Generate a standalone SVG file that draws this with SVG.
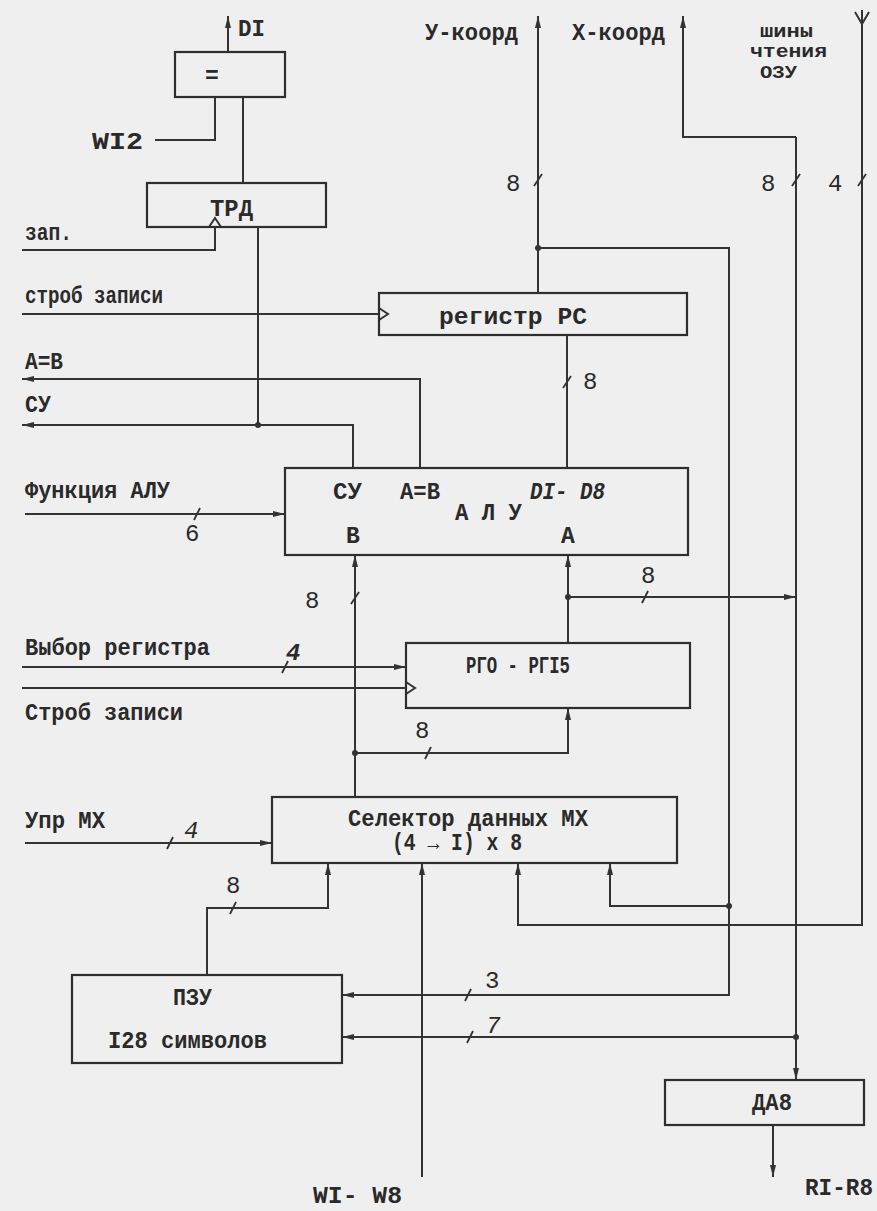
<svg xmlns="http://www.w3.org/2000/svg" width="877" height="1211" viewBox="0 0 877 1211">
<style>
.box{fill:none;stroke:#2e2e2e;stroke-width:2.2}
.ln{fill:none;stroke:#333;stroke-width:2}
.sl{fill:none;stroke:#333;stroke-width:1.8}
.t{font-family:"Liberation Mono","DejaVu Sans Mono",monospace;font-weight:bold;font-size:23px;fill:#2a2a2a}
.n{font-family:"Liberation Mono","DejaVu Sans Mono",monospace;font-size:24px;fill:#2a2a2a}
.s{font-family:"Liberation Mono","DejaVu Sans Mono",monospace;font-weight:bold;font-size:19px;fill:#2a2a2a}
.dot{fill:#333}
</style>
<defs>
<marker id="arr" viewBox="0 0 12 6" refX="12" refY="3" markerWidth="12" markerHeight="6" orient="auto" markerUnits="userSpaceOnUse"><path d="M0,0 L12,3 L0,6 z" fill="#333"/></marker>
</defs>
<rect width="877" height="1211" fill="#efefef"/>

<g id="connectors">
<path class="ln" d="M228,52 V16" marker-end="url(#arr)"/>
<path class="ln" d="M155,140 H215 V97"/>
<path class="ln" d="M243,97 V183"/>
<path class="ln" d="M22,250 H215 V227"/>
<path class="ln" d="M209,227 L215,218 L221,227"/>
<path class="ln" d="M258,227 V425"/>
<path class="ln" d="M353,468 V425 H22" marker-end="url(#arr)"/>
<path class="ln" d="M420,468 V379 H22" marker-end="url(#arr)"/>
<path class="ln" d="M22,314 H379"/>
<path class="ln" d="M379,308 L388,314 L379,320"/>
<path class="ln" d="M538,293 V16" marker-end="url(#arr)"/>
<path class="ln" d="M538,248 H729 V995 H342" marker-end="url(#arr)"/>
<path class="ln" d="M796,137 H683 V16" marker-end="url(#arr)"/>
<path class="ln" d="M796,137 V1080" marker-end="url(#arr)"/>
<path class="ln" d="M862,10 V925 H518 V863" marker-end="url(#arr)"/>
<path class="ln" d="M855,12 L862,24 L869,12"/>
<path class="ln" d="M567,335 V468"/>
<path class="ln" d="M25,514 H285" marker-end="url(#arr)"/>
<path class="ln" d="M355,797 V555" marker-end="url(#arr)"/>
<path class="ln" d="M355,753 H568 V708" marker-end="url(#arr)"/>
<path class="ln" d="M568,643 V555" marker-end="url(#arr)"/>
<path class="ln" d="M568,597 H796" marker-end="url(#arr)"/>
<path class="ln" d="M22,667 H406" marker-end="url(#arr)"/>
<path class="ln" d="M22,688 H406"/>
<path class="ln" d="M406,682 L415,688 L406,694"/>
<path class="ln" d="M25,843 H272" marker-end="url(#arr)"/>
<path class="ln" d="M207,975 V908 H328 V863" marker-end="url(#arr)"/>
<path class="ln" d="M729,906 H610 V863" marker-end="url(#arr)"/>
<path class="ln" d="M422,1177 V863" marker-end="url(#arr)"/>
<path class="ln" d="M796,1037 H342" marker-end="url(#arr)"/>
<path class="ln" d="M773,1125 V1177" marker-end="url(#arr)"/>

<path class="sl" d="M534,186 L542,174"/>
<path class="sl" d="M792,186 L800,174"/>
<path class="sl" d="M858,186 L866,174"/>
<path class="sl" d="M563,388 L571,376"/>
<path class="sl" d="M194,520 L200,508"/>
<path class="sl" d="M351,604 L359,592"/>
<path class="sl" d="M642,603 L648,591"/>
<path class="sl" d="M282,673 L288,661"/>
<path class="sl" d="M425,759 L431,747"/>
<path class="sl" d="M167,849 L173,837"/>
<path class="sl" d="M230,914 L236,902"/>
<path class="sl" d="M465,1001 L471,989"/>
<path class="sl" d="M467,1043 L473,1031"/>

<circle class="dot" cx="258" cy="425" r="3"/>
<circle class="dot" cx="538" cy="248" r="3"/>
<circle class="dot" cx="568" cy="597" r="3"/>
<circle class="dot" cx="355" cy="753" r="3"/>
<circle class="dot" cx="729" cy="906" r="3"/>
<circle class="dot" cx="796" cy="1037" r="3"/>
</g>

<g id="eq">
<rect class="box" x="175" y="52" width="110" height="45"/>
<text class="t" x="212" y="83" text-anchor="middle">=</text>
</g>
<g id="trd">
<rect class="box" x="147" y="183" width="179" height="44"/>
<text class="t" x="210" y="216" textLength="43" lengthAdjust="spacingAndGlyphs">ТРД</text>
</g>
<g id="rs">
<rect class="box" x="379" y="293" width="308" height="42"/>
<text class="t" x="439" y="324" font-size="22" textLength="148" lengthAdjust="spacingAndGlyphs">регистр  РС</text>
</g>
<g id="alu">
<rect class="box" x="285" y="468" width="403" height="87"/>
<text class="t" x="333" y="499" textLength="29" lengthAdjust="spacingAndGlyphs">СУ</text>
<text class="t" x="400" y="499" textLength="40" lengthAdjust="spacingAndGlyphs">A=B</text>
<text class="t" x="530" y="499" font-style="italic" font-weight="normal" textLength="75" lengthAdjust="spacingAndGlyphs">DI- D8</text>
<text class="t" x="455" y="520" textLength="67" lengthAdjust="spacingAndGlyphs">А Л У</text>
<text class="t" x="346" y="543">B</text>
<text class="t" x="561" y="543">A</text>
</g>
<g id="rg">
<rect class="box" x="406" y="643" width="284" height="65"/>
<text class="t" x="466" y="673" font-size="23" textLength="104" lengthAdjust="spacingAndGlyphs">РГО - РГI5</text>
</g>
<g id="sel">
<rect class="box" x="272" y="797" width="405" height="66"/>
<text class="t" x="348" y="826" textLength="240" lengthAdjust="spacingAndGlyphs">Селектор данных МХ</text>
<text class="t" x="392" y="850" textLength="130" lengthAdjust="spacingAndGlyphs">(4 → I) x 8</text>
</g>
<g id="pzu">
<rect class="box" x="72" y="975" width="270" height="88"/>
<text class="t" x="173" y="1005" textLength="39" lengthAdjust="spacingAndGlyphs">ПЗУ</text>
<text class="t" x="108" y="1048" textLength="159" lengthAdjust="spacingAndGlyphs">I28 символов</text>
</g>
<g id="da8">
<rect class="box" x="665" y="1080" width="199" height="45"/>
<text class="t" x="752" y="1110" textLength="40" lengthAdjust="spacingAndGlyphs">ДА8</text>
</g>

<g id="labels">
<text class="t" x="238" y="36" textLength="27" lengthAdjust="spacingAndGlyphs">DI</text>
<text class="t" x="92" y="149" textLength="51" lengthAdjust="spacingAndGlyphs">WI2</text>
<text class="t" x="25" y="240" textLength="47" lengthAdjust="spacingAndGlyphs">зап.</text>
<text class="t" x="25" y="303" textLength="138" lengthAdjust="spacingAndGlyphs">строб записи</text>
<text class="t" x="25" y="369" textLength="38" lengthAdjust="spacingAndGlyphs">A=B</text>
<text class="t" x="25" y="412" textLength="26" lengthAdjust="spacingAndGlyphs">СУ</text>
<text class="t" x="25" y="498" textLength="145" lengthAdjust="spacingAndGlyphs">Функция АЛУ</text>
<text class="t" x="25" y="655" textLength="185" lengthAdjust="spacingAndGlyphs">Выбор регистра</text>
<text class="t" x="25" y="720" textLength="158" lengthAdjust="spacingAndGlyphs">Строб записи</text>
<text class="t" x="25" y="828" textLength="80" lengthAdjust="spacingAndGlyphs">Упр МХ</text>
<text class="t" x="425" y="40" textLength="93" lengthAdjust="spacingAndGlyphs">У-коорд</text>
<text class="t" x="572" y="40" textLength="93" lengthAdjust="spacingAndGlyphs">X-коорд</text>
<text class="s" x="760" y="37" textLength="53" lengthAdjust="spacingAndGlyphs">шины</text>
<text class="s" x="750" y="57" textLength="77" lengthAdjust="spacingAndGlyphs">чтения</text>
<text class="s" x="760" y="78" textLength="37" lengthAdjust="spacingAndGlyphs">ОЗУ</text>
<text class="n" x="506" y="191">8</text>
<text class="n" x="761" y="191">8</text>
<text class="n" x="828" y="191">4</text>
<text class="n" x="583" y="389">8</text>
<text class="n" x="185" y="541">6</text>
<text class="n" x="305" y="608">8</text>
<text class="n" x="641" y="583">8</text>
<text class="n" x="286" y="660" font-style="italic" font-weight="bold">4</text>
<text class="n" x="415" y="738">8</text>
<text class="n" x="184" y="838" font-style="italic" font-size="17">4</text>
<text class="n" x="226" y="893">8</text>
<text class="n" x="485" y="988">3</text>
<text class="n" x="486" y="1033" font-style="italic">7</text>
<text class="t" x="313" y="1203" textLength="89" lengthAdjust="spacingAndGlyphs">WI- W8</text>
<text class="t" x="805" y="1195" textLength="68" lengthAdjust="spacingAndGlyphs">RI-R8</text>
</g>
</svg>
